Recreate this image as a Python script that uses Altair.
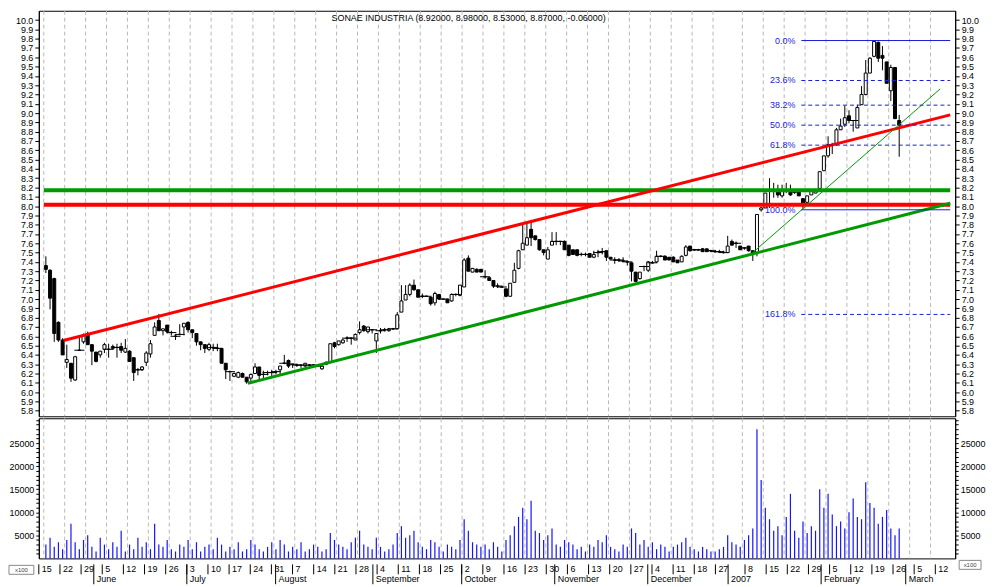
import altair as alt
import pandas as pd

# ---------------- data ----------------
opens = [7.36,7.31,7.22,6.75,6.56,6.32,6.31,6.13,6.45,6.54,6.63,6.51,6.43,6.40,6.46,6.46,6.47,6.48,6.49,6.43,
         6.44,6.37,6.24,6.24,6.32,6.41,6.61,6.77,6.66,6.72,6.64,6.60,6.62,6.70,6.75,6.67,6.63,6.54,6.51,6.46,
         6.48,6.47,6.47,6.31,6.22,6.17,6.16,6.20,6.16,6.15,6.20,6.27,6.19,6.21,6.21,6.22,6.24,6.31,6.34,6.30,
         6.29,6.29,6.28,6.29,6.29,6.28,6.25,6.32,6.32,6.53,6.51,6.53,6.58,6.58,6.56,6.64,6.71,6.65,6.67,6.55,
         6.66,6.67,6.66,6.68,6.68,6.86,6.99,7.05,7.15,7.10,7.03,7.03,7.02,6.96,7.05,7.00,7.00,6.98,7.05,7.04,
         7.13,7.44,7.29,7.32,7.32,7.24,7.23,7.20,7.14,7.13,7.11,7.03,7.18,7.33,7.53,7.58,7.75,7.68,7.64,7.53,
         7.43,7.58,7.62,7.62,7.62,7.58,7.53,7.53,7.48,7.48,7.49,7.45,7.50,7.51,7.52,7.45,7.42,7.42,7.41,7.40,
         7.39,7.29,7.22,7.35,7.31,7.39,7.40,7.46,7.46,7.45,7.45,7.42,7.40,7.47,7.57,7.53,7.53,7.54,7.54,7.52,
         7.51,7.51,7.50,7.50,7.62,7.60,7.57,7.55,7.57,7.52,7.50,7.96,7.98,8.16,8.16,8.18,8.11,8.17,8.16,8.15,
         8.15,8.08,8.04,8.12,8.14,8.19,8.38,8.54,8.66,8.66,8.82,8.88,8.97,8.92,8.84,9.09,9.20,9.43,9.61,9.76,
         9.62,9.55,9.24,9.49,8.92]
highs = [7.46,7.32,7.23,6.76,6.58,6.51,6.31,6.39,6.59,6.63,6.65,6.51,6.43,6.44,6.53,6.52,6.51,6.52,6.53,6.57,
         6.45,6.37,6.26,6.28,6.44,6.56,6.75,6.84,6.68,6.72,6.66,6.62,6.73,6.74,6.76,6.67,6.63,6.54,6.51,6.53,
         6.52,6.52,6.47,6.31,6.23,6.21,6.22,6.21,6.16,6.20,6.31,6.27,6.23,6.23,6.24,6.24,6.28,6.40,6.35,6.30,
         6.30,6.29,6.31,6.30,6.30,6.30,6.28,6.33,6.52,6.54,6.55,6.57,6.60,6.58,6.63,6.76,6.72,6.70,6.67,6.63,
         6.69,6.69,6.69,6.69,6.86,7.15,7.15,7.17,7.21,7.10,7.06,7.03,7.02,7.08,7.05,7.00,7.00,7.06,7.06,7.15,
         7.44,7.47,7.33,7.33,7.32,7.31,7.23,7.20,7.17,7.14,7.11,7.17,7.39,7.53,7.81,7.81,7.83,7.68,7.64,7.53,
         7.56,7.72,7.72,7.62,7.63,7.58,7.53,7.53,7.50,7.50,7.49,7.52,7.53,7.55,7.52,7.45,7.45,7.44,7.45,7.40,
         7.39,7.29,7.29,7.36,7.41,7.41,7.52,7.47,7.47,7.45,7.46,7.42,7.47,7.58,7.57,7.54,7.54,7.55,7.54,7.53,
         7.53,7.53,7.52,7.68,7.64,7.62,7.57,7.55,7.57,7.52,7.91,7.99,8.14,8.30,8.25,8.23,8.23,8.25,8.23,8.17,
         8.15,8.08,8.11,8.16,8.18,8.37,8.54,8.75,8.68,8.84,8.94,9.08,9.03,8.92,9.09,9.29,9.57,9.60,9.78,9.77,
         9.72,9.55,9.52,9.49,8.98]
lows = [7.28,6.89,6.54,6.54,6.40,6.26,6.11,6.12,6.45,6.52,6.51,6.29,6.32,6.37,6.42,6.37,6.46,6.37,6.42,6.42,
        6.33,6.12,6.18,6.23,6.28,6.37,6.61,6.66,6.61,6.63,6.61,6.56,6.61,6.61,6.64,6.58,6.50,6.45,6.42,6.44,
        6.44,6.44,6.31,6.14,6.12,6.16,6.15,6.16,6.09,6.11,6.20,6.14,6.14,6.18,6.16,6.19,6.19,6.30,6.26,6.26,
        6.27,6.26,6.27,6.28,6.28,6.27,6.24,6.29,6.31,6.47,6.50,6.52,6.54,6.51,6.56,6.62,6.65,6.63,6.63,6.42,
        6.63,6.65,6.65,6.67,6.68,6.86,6.99,7.03,7.09,7.02,7.01,7.03,6.93,6.93,6.99,7.00,6.96,6.97,7.03,7.03,
        7.13,7.30,7.29,7.29,7.29,7.22,7.20,7.12,7.12,7.12,7.02,7.03,7.18,7.32,7.53,7.58,7.57,7.63,7.52,7.47,
        7.43,7.58,7.58,7.58,7.53,7.46,7.48,7.46,7.46,7.46,7.45,7.44,7.45,7.48,7.41,7.43,7.38,7.40,7.40,7.36,
        7.19,7.18,7.21,7.30,7.29,7.38,7.39,7.45,7.42,7.42,7.40,7.39,7.40,7.46,7.51,7.52,7.52,7.51,7.51,7.51,
        7.50,7.50,7.49,7.50,7.58,7.55,7.53,7.53,7.51,7.41,7.46,7.94,7.98,7.98,8.09,8.09,8.09,8.14,8.11,8.13,
        8.11,7.97,8.02,8.12,8.14,8.18,8.38,8.52,8.56,8.65,8.82,8.85,8.89,8.80,8.84,9.09,9.19,9.43,9.60,9.55,
        9.46,9.32,9.13,8.94,8.53]
closes = [7.32,7.01,6.63,6.56,6.40,6.35,6.15,6.38,6.45,6.61,6.51,6.44,6.33,6.44,6.51,6.46,6.49,6.48,6.45,6.47,
          6.33,6.21,6.24,6.27,6.42,6.52,6.70,6.66,6.68,6.65,6.64,6.60,6.62,6.74,6.67,6.64,6.54,6.51,6.47,6.51,
          6.48,6.47,6.31,6.24,6.22,6.20,6.21,6.16,6.11,6.19,6.27,6.18,6.19,6.21,6.21,6.22,6.28,6.31,6.28,6.30,
          6.29,6.29,6.31,6.29,6.29,6.28,6.28,6.30,6.52,6.49,6.55,6.56,6.58,6.58,6.62,6.67,6.66,6.70,6.67,6.63,
          6.66,6.67,6.68,6.68,6.83,6.98,7.05,7.15,7.10,7.02,7.03,7.03,6.95,7.06,7.00,7.00,6.96,7.05,7.05,7.15,
          7.42,7.30,7.33,7.29,7.29,7.24,7.20,7.14,7.14,7.13,7.03,7.17,7.31,7.52,7.60,7.66,7.66,7.64,7.53,7.50,
          7.53,7.62,7.62,7.62,7.53,7.47,7.48,7.47,7.48,7.48,7.45,7.48,7.50,7.51,7.45,7.43,7.42,7.42,7.41,7.40,
          7.30,7.19,7.29,7.35,7.40,7.39,7.46,7.46,7.42,7.42,7.40,7.39,7.46,7.56,7.52,7.53,7.53,7.51,7.51,7.52,
          7.51,7.51,7.50,7.57,7.58,7.60,7.53,7.55,7.52,7.48,7.91,7.98,8.14,8.16,8.16,8.12,8.16,8.17,8.12,8.15,
          8.11,8.03,8.11,8.16,8.18,8.37,8.54,8.66,8.66,8.82,8.86,8.95,8.92,8.92,9.06,9.20,9.43,9.59,9.77,9.59,
          9.59,9.32,9.49,8.94,8.87]
volumes = [3000,4500,2500,3500,2000,4000,7500,3500,2000,4000,
           5000,2500,1500,4500,3000,2000,3500,2500,6000,1500,
           3000,2000,4500,2500,3500,2000,7500,3000,2500,4000,
           2000,1500,3000,2500,4000,2000,3500,1500,2500,3000,
           2000,4500,3000,1500,2500,2000,3500,1500,2000,4000,
           3000,2000,1500,2500,3500,2000,4000,3000,1500,2500,
           2000,3500,1500,2000,3000,2500,1500,2000,5500,4000,
           3000,2500,2000,3500,4500,6000,3000,2500,2000,4500,
           2500,1500,2000,3000,5500,7000,4500,5000,6000,3500,
           2500,2000,4000,3500,2500,1500,3000,2500,2000,4000,
           8500,6000,3500,3000,2500,3000,2000,3500,2500,1500,
           4000,5000,7000,9000,11000,8500,12500,6000,5500,4000,
           5000,6500,3000,2500,4000,3500,3000,2000,2500,1500,
           3000,2500,4000,3500,5000,2500,2000,1500,3000,2500,
           6500,5500,3000,4000,2500,3500,2000,3000,2500,1500,
           2500,3000,3500,4500,2500,2000,1500,2500,2000,1500,
           1500,2000,2500,5000,3500,3000,2500,4000,5000,6500,
           28000,17000,11000,8500,6000,7000,5000,9000,14000,6000,
           4500,8000,5500,7000,6000,15000,11000,14000,9500,7000,
           8000,6500,10000,13000,9000,8500,16500,12000,11000,7500,
           9000,10500,6500,5000,6500]

# trend lines (trading-day index / price)
line_x1 = [-0.5, -0.5, 4.2, 48.3, 169.0]
line_x2 = [216.2, 216.2, 216.2, 216.2, 213.8]
line_y1 = [8.17, 8.015, 6.555, 6.095, 7.50]
line_y2 = [8.17, 8.015, 8.98, 8.03, 9.26]
line_color = ["#009a00", "#ff0000", "#ff0000", "#009a00", "#009a00"]
line_width = [4, 4, 3, 3, 1]

# fibonacci retracement
fib_labels = ["0.0%", "23.6%", "38.2%", "50.0%", "61.8%", "100.0%", "161.8%"]
fib_prices = [9.78, 9.35, 9.085, 8.87, 8.655, 7.96, 6.835]
fib_solid = [True, False, False, False, False, True, False]
fib_start = 180.6
fib_end = 216.2

# date axis
week_idx = [0,5,10,15,20,25,30,35,40,45,50,55,60,65,70,75,80,85,90,95,100,105,110,115,120,125,130,
            135,140,145,150,155,160,167,172,177,182,187,192,197,202,207,212]
week_day = ["15","22","29","5","12","19","26","3","10","17","24","31","7","14","21","28","4","11","18",
            "25","2","9","16","23","30","6","13","20","27","4","11","18","27","8","15","22","29","5","12",
            "19","26","5","12"]
month_idx = [13, 35, 56, 79, 100, 122, 144, 163, 185, 205]
month_name = ["June", "July", "August", "September", "October", "November", "December", "2007",
              "February", "March"]

title_text = "SONAE INDUSTRIA (8.92000, 8.98000, 8.53000, 8.87000, -0.06000)"
price_ticks = [round(5.8 + 0.1 * k, 1) for k in range(43)]
vol_ticks = [1000 * k for k in range(1, 31)]

# ---------------- chart ----------------
W = 922
H_PRICE = 408
H_VOL = 141
H_DATE = 20
FONT = "Liberation Sans"

xs = alt.Scale(domain=[-0.5, 216.2], nice=False, zero=False)
ps = alt.Scale(domain=[5.74, 10.10], nice=False, zero=False)
vs = alt.Scale(domain=[0, 30400], nice=False, zero=False)

cd = pd.DataFrame({"i": list(range(len(opens))), "open": opens, "high": highs,
                   "low": lows, "close": closes, "vol": volumes})
ld = pd.DataFrame({"x1": line_x1, "x2": line_x2, "y1": line_y1, "y2": line_y2,
                   "c": line_color, "w": line_width})
fd = pd.DataFrame({"lab": fib_labels, "p": fib_prices, "solid": fib_solid,
                   "x1": [fib_start] * len(fib_labels), "x2": [fib_end] * len(fib_labels)})
wd = pd.DataFrame({"gx": [w - 0.5 for w in week_idx], "lab": week_day})
md = pd.DataFrame({"gx": [m - 0.5 for m in month_idx], "lab": month_name})

X = lambda f: alt.X(f, scale=xs, axis=None, title=None)

grid = alt.Chart(wd).mark_rule(color="#b8b8b8", strokeDash=[4, 3], strokeWidth=1).encode(x=X("gx:Q"))

left_axis = alt.Axis(orient="left", values=price_ticks, format=".1f", tickSize=4, labelPadding=2,
                     grid=False, title=None)
right_axis = alt.Axis(orient="right", values=price_ticks, format=".1f", tickSize=4, labelPadding=2,
                      grid=False, title=None)

wick = alt.Chart(cd).mark_rule(color="black", strokeWidth=1, clip=True).encode(
    x=X("i:Q"),
    y=alt.Y("low:Q", scale=ps, axis=left_axis),
    y2="high:Q",
)
axis_r = alt.Chart(cd).mark_rule(opacity=0).encode(
    x=X("i:Q"),
    y=alt.Y("low:Q", scale=ps, axis=right_axis),
)
body = alt.Chart(cd).transform_calculate(
    lo="min(datum.open, datum.close)", hi="max(datum.open, datum.close)"
).mark_bar(size=3, stroke="black", strokeWidth=1, clip=True).encode(
    x=X("i:Q"),
    y=alt.Y("lo:Q", scale=ps, axis=None),
    y2="hi:Q",
    fill=alt.condition("datum.close >= datum.open", alt.value("white"), alt.value("black")),
)
doji = alt.Chart(cd).transform_filter("datum.open == datum.close").transform_calculate(
    a="datum.i - 1.2", b="datum.i + 1.2"
).mark_rule(color="black", strokeWidth=1).encode(
    x=X("a:Q"), x2="b:Q", y=alt.Y("close:Q", scale=ps, axis=None)
)
lines = alt.Chart(ld).mark_rule(clip=True).encode(
    x=X("x1:Q"), x2="x2:Q",
    y=alt.Y("y1:Q", scale=ps, axis=None), y2="y2:Q",
    color=alt.Color("c:N", scale=None, legend=None),
    strokeWidth=alt.StrokeWidth("w:Q", scale=None, legend=None),
)
fib_solid_l = alt.Chart(fd).transform_filter("datum.solid").mark_rule(color="#1c1cd8", strokeWidth=1).encode(
    x=X("x1:Q"), x2="x2:Q", y=alt.Y("p:Q", scale=ps, axis=None)
)
fib_dash_l = alt.Chart(fd).transform_filter("!datum.solid").mark_rule(
    color="#1c1cd8", strokeWidth=1, strokeDash=[4, 3]).encode(
    x=X("x1:Q"), x2="x2:Q", y=alt.Y("p:Q", scale=ps, axis=None)
)
fib_text = alt.Chart(fd).mark_text(align="right", baseline="middle", dx=-6, fontSize=9,
                                    font=FONT, color="#1c1cd8").encode(
    x=X("x1:Q"), y=alt.Y("p:Q", scale=ps, axis=None), text="lab:N"
)
title = alt.Chart(pd.DataFrame({"t": [title_text]})).mark_text(
    align="center", baseline="middle", fontSize=9, font=FONT, color="black"
).encode(text="t:N", x=alt.value(W * 0.469), y=alt.value(7))

price = alt.layer(grid, wick, body, doji, lines, fib_solid_l, fib_dash_l, fib_text, title, axis_r).properties(
    width=W, height=H_PRICE
).resolve_axis(y="independent")

# volume panel
vol_left = alt.Axis(orient="left", values=vol_ticks, tickSize=3, labelPadding=2, grid=False, title=None,
                    labelExpr="(datum.value % 5000 == 0 && datum.value < 30000) ? format(datum.value, 'd') : ''")
vol_right = alt.Axis(orient="right", values=vol_ticks, tickSize=3, labelPadding=2, grid=False, title=None,
                     labelExpr="(datum.value % 5000 == 0 && datum.value < 30000) ? format(datum.value, 'd') : ''")
vbars = alt.Chart(cd).mark_bar(size=1.2, color="#1414ff").encode(
    x=X("i:Q"), y=alt.Y("vol:Q", scale=vs, axis=vol_left)
)
vaxis_r = alt.Chart(cd).mark_rule(opacity=0).encode(
    x=X("i:Q"), y=alt.Y("vol:Q", scale=vs, axis=vol_right)
)
volume = alt.layer(grid, vbars, vaxis_r).properties(width=W, height=H_VOL).resolve_axis(y="independent")

# date panel
week_sep = alt.Chart(wd).mark_rule(color="black", strokeWidth=1).encode(
    x=X("gx:Q"), y=alt.value(0), y2=alt.value(10))
week_txt = alt.Chart(wd).mark_text(align="left", baseline="middle", dx=3, fontSize=9, font=FONT,
                                   color="black").encode(x=X("gx:Q"), y=alt.value(5), text="lab:N")
month_sep = alt.Chart(md).mark_rule(color="black", strokeWidth=1).encode(
    x=X("gx:Q"), y=alt.value(0), y2=alt.value(20))
month_txt = alt.Chart(md).mark_text(align="left", baseline="middle", dx=3, fontSize=9, font=FONT,
                                    color="black").encode(x=X("gx:Q"), y=alt.value(15), text="lab:N")
box_df = pd.DataFrame({"t": ["x100"]})
box_l = alt.Chart(box_df).mark_rect(fill="white", stroke="#888888", strokeWidth=1).encode(
    x=alt.value(-30), x2=alt.value(-5), y=alt.value(1), y2=alt.value(10))
box_t = alt.Chart(box_df).mark_text(fontSize=6, font=FONT, color="#444444", baseline="middle").encode(
    x=alt.value(-17.5), y=alt.value(5.5), text="t:N")
box_r = alt.Chart(box_df).mark_rect(fill="white", stroke="#888888", strokeWidth=1).encode(
    x=alt.value(W + 4), x2=alt.value(W + 26), y=alt.value(-4), y2=alt.value(5))
box_rt = alt.Chart(box_df).mark_text(fontSize=6, font=FONT, color="#444444", baseline="middle").encode(
    x=alt.value(W + 15), y=alt.value(0.5), text="t:N")
dates = alt.layer(week_sep, week_txt, month_sep, month_txt, box_l, box_t, box_r, box_rt).properties(
    width=W, height=H_DATE, view=alt.ViewBackground(stroke=None)
)

chart = alt.vconcat(price, volume, dates, spacing=0).properties(
    padding={"left": 0, "top": 0, "right": 0, "bottom": 0}
).configure_view(stroke="black", strokeWidth=1).configure_axis(
    labelFont=FONT, labelFontSize=9, labelColor="black", tickColor="black", domainColor="black"
).configure_concat(spacing=0)

chart.save("out.html", embed_options={"renderer": "svg", "actions": False})
